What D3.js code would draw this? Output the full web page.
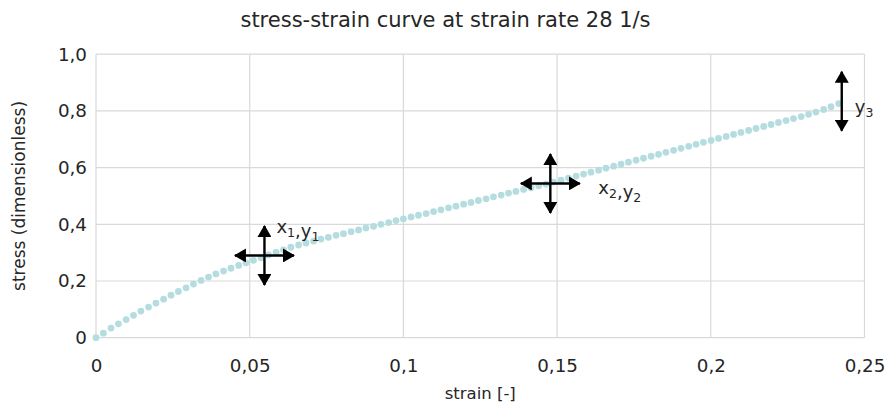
<!DOCTYPE html>
<html>
<head>
<meta charset="utf-8">
<script src="https://cdn.jsdelivr.net/npm/d3@7"></script>
<style>
  html, body { margin: 0; padding: 0; background: #ffffff; }
  svg { display: block; }
  text { font-family: "Century Gothic", "DejaVu Sans", sans-serif; fill: #262626; }
</style>
</head>
<body>
<svg id="chart" width="889" height="407"></svg>
<script>
const strain = [0.0000,0.0024,0.0049,0.0073,0.0098,0.0122,0.0146,0.0171,0.0195,0.0220,
0.0244,0.0268,0.0293,0.0317,0.0342,0.0366,0.0390,0.0415,0.0439,0.0464,
0.0488,0.0512,0.0537,0.0561,0.0586,0.0610,0.0634,0.0659,0.0683,0.0708,
0.0732,0.0756,0.0781,0.0805,0.0830,0.0854,0.0878,0.0903,0.0927,0.0952,
0.0976,0.1000,0.1025,0.1049,0.1074,0.1098,0.1122,0.1147,0.1171,0.1196,
0.1220,0.1244,0.1269,0.1293,0.1318,0.1342,0.1366,0.1391,0.1415,0.1440,
0.1464,0.1488,0.1513,0.1537,0.1562,0.1586,0.1610,0.1635,0.1659,0.1684,
0.1708,0.1732,0.1757,0.1781,0.1806,0.1830,0.1854,0.1879,0.1903,0.1928,
0.1952,0.1976,0.2001,0.2025,0.2050,0.2074,0.2098,0.2123,0.2147,0.2172,
0.2196,0.2220,0.2245,0.2269,0.2294,0.2318,0.2342,0.2367,0.2391,0.2416];

const stress = [0.000,0.016,0.034,0.049,0.064,0.079,0.094,0.108,0.122,0.136,
0.150,0.163,0.176,0.189,0.202,0.214,0.225,0.235,0.245,0.255,
0.264,0.273,0.282,0.292,0.301,0.310,0.319,0.327,0.334,0.341,
0.348,0.354,0.361,0.367,0.374,0.380,0.387,0.393,0.400,0.406,
0.413,0.419,0.426,0.432,0.438,0.445,0.451,0.458,0.464,0.471,
0.477,0.484,0.490,0.497,0.503,0.510,0.516,0.523,0.529,0.536,
0.542,0.549,0.556,0.563,0.570,0.577,0.584,0.591,0.598,0.605,
0.612,0.619,0.626,0.633,0.640,0.647,0.654,0.661,0.668,0.675,
0.682,0.689,0.696,0.703,0.710,0.717,0.724,0.731,0.738,0.745,
0.752,0.759,0.766,0.773,0.780,0.788,0.796,0.805,0.815,0.826];

const xTicks = [0, 0.05, 0.1, 0.15, 0.2, 0.25];
const xTickLabels = ["0", "0,05", "0,1", "0,15", "0,2", "0,25"];
const yTicks = [0, 0.2, 0.4, 0.6, 0.8, 1.0];
const yTickLabels = ["0", "0,2", "0,4", "0,6", "0,8", "1,0"];

const title = "stress-strain curve at strain rate 28 1/s";
const xTitle = "strain [-]";
const yTitle = "stress (dimensionless)";

// annotation markers: data-space anchor, type and label parts
const markers = [
  { sx: 0.0548, sy: 0.290, type: "cross", label: [["x","1"],[",",""],["y","1"]] },
  { sx: 0.1478, sy: 0.544, type: "cross", label: [["x","2"],[",",""],["y","2"]] },
  { sx: 0.2426, sy: 0.834, type: "vert",  label: [["y","3"]] }
];

const svg = d3.select("#chart");
const W = 889, H = 407;
const m = { left: 96, right: 889 - 864.5, top: 54.2, bottom: 407 - 337.7 };

const x = d3.scaleLinear().domain([0, 0.25]).range([m.left, W - m.right]);
const y = d3.scaleLinear().domain([0, 1.0]).range([H - m.bottom, m.top]);

const gridColor = "#d9d9d9";
const FONT = "'Century Gothic','DejaVu Sans',sans-serif";

// grid
svg.append("g").selectAll("line").data(yTicks).join("line")
  .attr("x1", x(0)).attr("x2", x(0.25))
  .attr("y1", d => y(d)).attr("y2", d => y(d))
  .attr("stroke", gridColor).attr("stroke-width", 1.2);
svg.append("g").selectAll("line").data(xTicks).join("line")
  .attr("x1", d => x(d)).attr("x2", d => x(d))
  .attr("y1", y(0)).attr("y2", y(1))
  .attr("stroke", gridColor).attr("stroke-width", 1.2);

// axes (labels only)
const xAxis = d3.axisBottom(x).tickValues(xTicks)
  .tickFormat((d, i) => xTickLabels[i]).tickSize(0).tickPadding(21);
const gx = svg.append("g").attr("transform", `translate(0,${y(0)})`).call(xAxis);
gx.select(".domain").remove();
gx.selectAll("text").attr("font-size", 18.3).attr("fill", "#262626").style("font-family", FONT);

const yAxis = d3.axisLeft(y).tickValues(yTicks)
  .tickFormat((d, i) => yTickLabels[i]).tickSize(0).tickPadding(9);
const gy = svg.append("g").attr("transform", `translate(${x(0)},0)`).call(yAxis);
gy.select(".domain").remove();
gy.selectAll("text").attr("font-size", 18.3).attr("fill", "#262626").style("font-family", FONT);

// titles
svg.append("text").attr("x", 445.5).attr("y", 27).attr("text-anchor", "middle")
  .attr("font-size", 21).text(title);
svg.append("text").attr("x", (x(0) + x(0.25)) / 2).attr("y", 399).attr("text-anchor", "middle")
  .attr("font-size", 16.5).text(xTitle);
svg.append("text").attr("transform", `translate(25,${(y(0) + y(1)) / 2}) rotate(-90)`)
  .attr("text-anchor", "middle").attr("font-size", 17).text(yTitle);

// data points
svg.append("g").selectAll("circle").data(stress).join("circle")
  .attr("cx", (d, i) => x(strain[i])).attr("cy", d => y(d))
  .attr("r", 3.4).attr("fill", "#b5dde0");

// arrows
const defs = svg.append("defs");
defs.append("marker").attr("id", "ah").attr("viewBox", "0 0 12 14")
  .attr("refX", 11).attr("refY", 7).attr("markerWidth", 12).attr("markerHeight", 14)
  .attr("markerUnits", "userSpaceOnUse").attr("orient", "auto-start-reverse")
  .append("path").attr("d", "M0,0 L12,7 L0,14 Z").attr("fill", "#000");

const half = 29.5;
const ag = svg.append("g");
markers.forEach(mk => {
  const cx = x(mk.sx), cy = y(mk.sy);
  if (mk.type === "cross") {
    ag.append("line").attr("x1", cx - half).attr("x2", cx + half).attr("y1", cy).attr("y2", cy)
      .attr("stroke", "#000").attr("stroke-width", 2.4)
      .attr("marker-start", "url(#ah)").attr("marker-end", "url(#ah)");
  }
  ag.append("line").attr("x1", cx).attr("x2", cx).attr("y1", cy - half).attr("y2", cy + half)
    .attr("stroke", "#000").attr("stroke-width", 2.4)
    .attr("marker-start", "url(#ah)").attr("marker-end", "url(#ah)");
});

// marker labels
const labelPos = [ { dx: 12, dy: -22 }, { dx: 48, dy: 11 }, { dx: 13, dy: 12 } ];
markers.forEach((mk, k) => {
  const t = svg.append("text").attr("x", x(mk.sx) + labelPos[k].dx).attr("y", y(mk.sy) + labelPos[k].dy)
    .attr("font-size", 18);
  mk.label.forEach(([main, sub]) => {
    t.append("tspan").text(main);
    if (sub) {
      t.append("tspan").attr("font-size", 12.5).attr("dy", 4).text(sub);
      t.append("tspan").attr("font-size", 18).attr("dy", -4).text("");
    }
  });
});
</script>
</body>
</html>
